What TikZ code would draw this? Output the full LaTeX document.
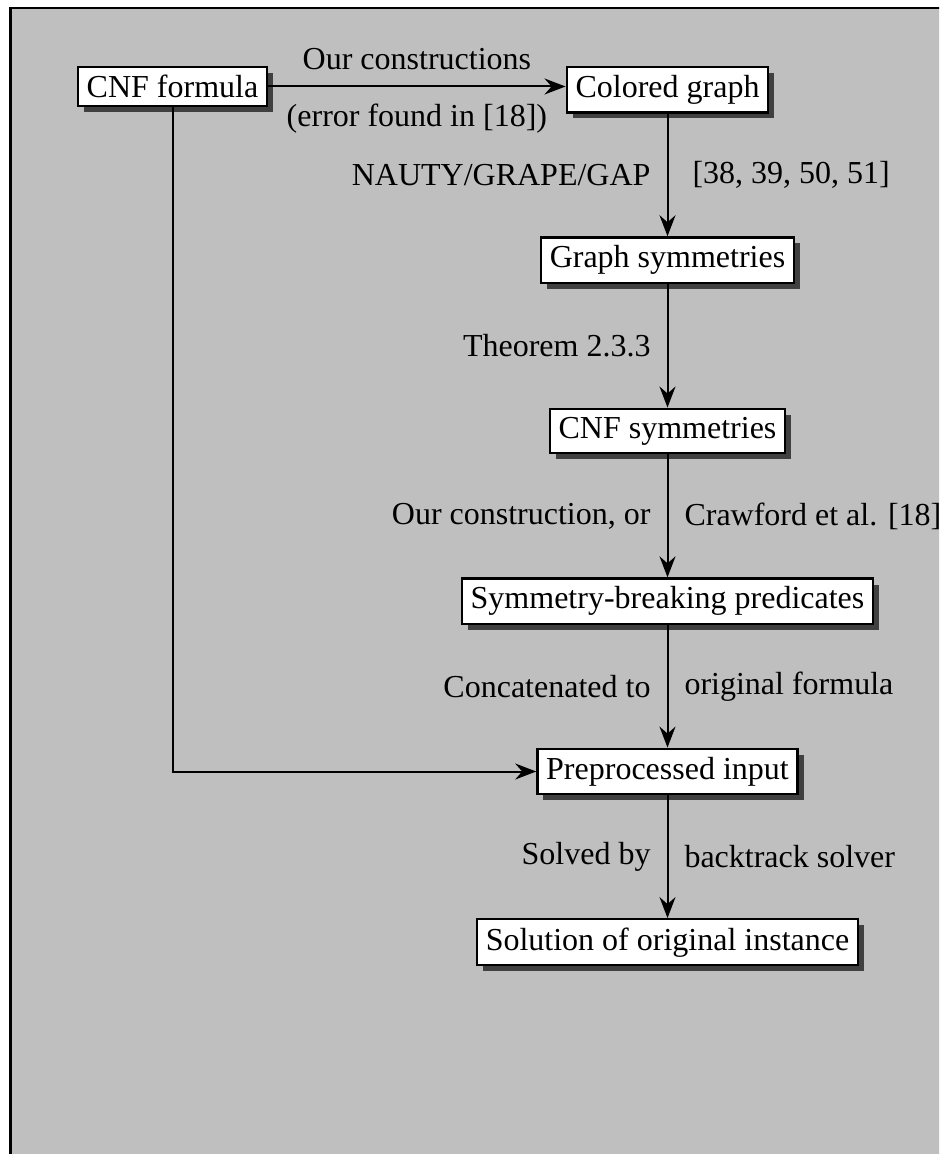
\documentclass[tikz,border=0pt]{standalone}
\usepackage{fontspec}
\setmainfont{Liberation Serif}
\usetikzlibrary{arrows.meta,shadows,positioning}
\definecolor{panelgray}{RGB}{191,191,191}
\definecolor{shadowgray}{RGB}{64,64,64}

\begin{document}
\begin{tikzpicture}[x=0.5pt, y=-0.5pt,
        font=\fontsize{16}{19}\selectfont,
        box/.style={draw, line width=1.2pt, fill=white, inner xsep=4.4pt, inner ysep=4.1pt,
            drop shadow={shadow xshift=3pt, shadow yshift=-3pt, fill=shadowgray, opacity=1}},
        flow/.style={-{Stealth[length=10.5pt, width=8pt, inset=3.5pt]}, line width=1pt},
        lbl/.style={inner sep=0pt}]
        \useasboundingbox (0,0) rectangle (939,1154);
        \clip (0,0) rectangle (939,1154);
        \draw[fill=panelgray, line width=1.2pt] (10.5,8) rectangle (980,1200);

        \node[box] (cnf) at (172.5,86.5) {CNF formula};
        \node[box] (colgraph) at (667.5,89.7) {Colored graph};
        \node[box] (graphsym) at (667.5,260.2) {Graph symmetries};
        \node[box] (cnfsym) at (667.5,431) {CNF symmetries};
        \node[box] (sbp) at (667.5,601.3) {Symmetry-breaking predicates};
        \node[box] (prep) at (667.5,771.5) {Preprocessed input};
        \node[box] (sol) at (667.5,942.2) {Solution of original instance};

        \draw[flow] (cnf.east) -- node[lbl, above=8pt] {Our constructions} node[lbl, below=8pt] {(error found in [18])} (cnf.east -| colgraph.west);
        \draw[flow] (colgraph) -- node[lbl, left=8pt] {NAUTY/GRAPE/GAP} node[lbl, right=12pt] {[38, 39, 50, 51]} (graphsym);
        \draw[flow] (graphsym) -- node[lbl, left=8pt] {Theorem 2.3.3} (cnfsym);
        \draw[flow] (cnfsym) -- node[lbl, left=8pt] {Our construction, or} node[lbl, right=8pt] {Crawford et al. [18]} (sbp);
        \draw[flow] (sbp) -- node[lbl, left=8pt] {Concatenated to} node[lbl, right=8pt] {original formula} (prep);
        \draw[flow] (prep) -- node[lbl, left=8pt] {Solved by} node[lbl, right=8pt] {backtrack solver} (sol);
        \draw[flow] (cnf.south) |- (prep.west);
    \end{tikzpicture}
\end{document}
